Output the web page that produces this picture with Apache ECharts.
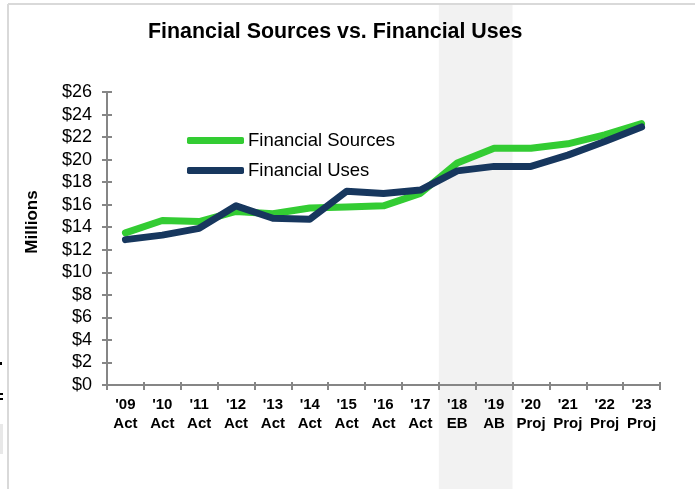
<!DOCTYPE html>
<html>
<head>
<meta charset="utf-8">
<script src="https://cdn.jsdelivr.net/npm/echarts@6/dist/echarts.min.js"></script>
<style>html,body{margin:0;padding:0;background:#fff;}#c{width:695px;height:489px;}</style>
</head>
<body>
<div id="c"></div>
<script>
var categories = ["'09\nAct","'10\nAct","'11\nAct","'12\nAct","'13\nAct","'14\nAct","'15\nAct","'16\nAct","'17\nAct","'18\nEB","'19\nAB","'20\nProj","'21\nProj","'22\nProj","'23\nProj"];
var financialSources = [13.5,14.6,14.5,15.4,15.2,15.7,15.8,15.9,17.0,19.7,21.0,21.0,21.4,22.2,23.2];
var financialUses = [12.9,13.3,13.9,15.9,14.8,14.7,17.2,17.0,17.3,19.0,19.4,19.4,20.4,21.6,22.9];
var shadedFrom = 9, shadedTo = 10;
var yMin = 0, yMax = 26, yStep = 2;

var FONT = 'Liberation Sans, Arial, sans-serif';
var axisGrey = '#868686';
var chart = echarts.init(document.getElementById('c'), null, {renderer:'canvas'});
chart.setOption({
  animation: false,
  backgroundColor: '#fff',
  title: {
    text: 'Financial Sources vs. Financial Uses',
    left: 148, top: 22, padding: 0,
    textStyle: {fontFamily: FONT, fontSize: 21.4, fontWeight: 'bold', color: '#000'}
  },
  legend: {
    orient: 'vertical', left: 187, top: 131, padding: 0,
    itemWidth: 57, itemHeight: 7, itemGap: 11,
    icon: 'roundRect',
    textStyle: {fontFamily: FONT, fontSize: 18.5, color: '#000', padding: [0,0,0,-1]},
    data: ['Financial Sources','Financial Uses']
  },
  grid: {left: 107, right: 35, top: 92, bottom: 104, containLabel: false},
  xAxis: [{
    type: 'category', data: categories, boundaryGap: true,
    axisLine: {lineStyle: {color: axisGrey, width: 2}},
    axisTick: {show: true, length: 5, lineStyle: {color: axisGrey, width: 2}},
    axisLabel: {interval: 0, margin: 11, fontFamily: FONT, fontSize: 15, fontWeight: 'bold', color: '#000', lineHeight: 18.5}
  },{
    type: 'category', data: categories, boundaryGap: true, position: 'bottom',
    axisLine: {show: false},
    axisTick: {show: true, inside: true, length: 3, lineStyle: {color: axisGrey, width: 2}},
    axisLabel: {show: false}
  }],
  yAxis: [{
    type: 'value', min: yMin, max: yMax, interval: yStep,
    axisLine: {show: true, lineStyle: {color: axisGrey, width: 2}},
    axisTick: {show: true, length: 5, lineStyle: {color: axisGrey, width: 2}},
    axisLabel: {margin: 15, fontFamily: FONT, fontSize: 18, color: '#000', formatter: function(v){return '$' + v;}},
    splitLine: {show: false}
  },{
    type: 'value', min: yMin, max: yMax, interval: yStep, position: 'left',
    axisLine: {show: false},
    axisTick: {show: true, inside: true, length: 5, lineStyle: {color: axisGrey, width: 2}},
    axisLabel: {show: false}, splitLine: {show: false}
  }],
  series: [{
    name: 'Financial Sources', type: 'line', data: financialSources,
    symbol: 'none', color: '#33CC33',
    lineStyle: {width: 7, color: '#33CC33', cap: 'round', join: 'round'}, z: 3
  },{
    name: 'Financial Uses', type: 'line', data: financialUses,
    symbol: 'none', color: '#17375E',
    lineStyle: {width: 7, color: '#17375E', cap: 'round', join: 'round'}, z: 4
  }]
});

var c0 = chart.convertToPixel({xAxisIndex: 0}, shadedFrom);
var c1 = chart.convertToPixel({xAxisIndex: 0}, shadedTo);
var half = (c1 - c0) / 2;
chart.setOption({
  graphic: [
    {type: 'rect', z: -10, silent: true, shape: {x: c0 - half, y: 5, width: (c1 - c0) + 2*half, height: 484}, style: {fill: '#F2F2F2'}},
    {type: 'line', z: -5, silent: true, shape: {x1: 8, y1: 4, x2: 695, y2: 4}, style: {stroke: '#D9D9D9', lineWidth: 2}},
    {type: 'line', z: -5, silent: true, shape: {x1: 8, y1: 4, x2: 8, y2: 489}, style: {stroke: '#D9D9D9', lineWidth: 2}},
    {type: 'text', silent: true, x: 32, y: 222, rotation: Math.PI / 2,
      style: {text: 'Millions', fontFamily: FONT, fontSize: 17, fontWeight: 'bold', fill: '#000', align: 'center', verticalAlign: 'middle'}},
    {type: 'rect', silent: true, shape: {x: 0, y: 362, width: 2, height: 3}, style: {fill: '#000'}},
    {type: 'rect', silent: true, shape: {x: 0, y: 393, width: 3, height: 2}, style: {fill: '#000'}},
    {type: 'rect', silent: true, shape: {x: 0, y: 398, width: 3, height: 2}, style: {fill: '#000'}},
    {type: 'rect', silent: true, shape: {x: 0, y: 424, width: 3, height: 30}, style: {fill: '#E8E8E8'}}
  ]
});
</script>
</body>
</html>
